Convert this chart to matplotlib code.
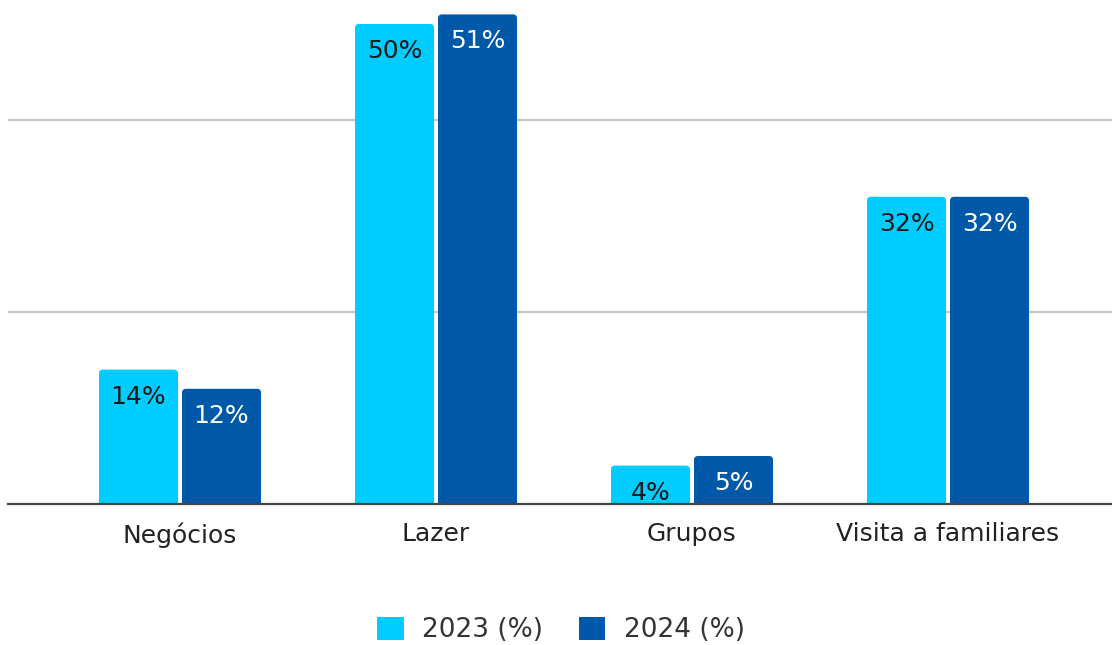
import matplotlib
matplotlib.use("Agg")
import matplotlib.pyplot as plt
from matplotlib.patches import FancyBboxPatch, Patch
import numpy as np

categories = ["Negócios", "Lazer", "Grupos", "Visita a familiares"]
series_names = ["2023 (%)", "2024 (%)"]
values_2023 = [14, 50, 4, 32]
values_2024 = [12, 51, 5, 32]
colors = ["#00CCFF", "#0059A8"]
label_colors = ["#1a1a1a", "#ffffff"]

W, H = 1112, 645
fig = plt.figure(figsize=(W / 100, H / 100), dpi=100)
left_px = 8
ax = fig.add_axes([left_px / W, (H - 504) / H, (W - left_px) / W, 504 / H])

px_per_unit_x = 256.0
center0 = 180
x_min = (left_px - center0) / px_per_unit_x
x_max = (W - center0) / px_per_unit_x
ax.set_xlim(x_min, x_max)
ax.set_ylim(0, 52.5)

px_per_unit_y = 504 / 52.5
bar_w = 79 / px_per_unit_x
offset = 41.5 / px_per_unit_x
r_x = 4 / px_per_unit_x
aspect = (4 / px_per_unit_y) / r_x

x = np.arange(len(categories))
for s, (vals, col, lc) in enumerate(zip([values_2023, values_2024], colors, label_colors)):
    xs = x + (offset if s else -offset)
    bars = ax.bar(xs, vals, width=bar_w, color="none")
    for b, v in zip(bars, vals):
        bx, bw = b.get_x(), b.get_width()
        p = FancyBboxPatch((bx, -1), bw, v + 1,
                           boxstyle=f"round,pad=0,rounding_size={r_x}",
                           mutation_aspect=aspect, facecolor=col, edgecolor="none",
                           zorder=2)
        ax.add_patch(p)
        ax.annotate(f"{v}%", (bx + bw / 2, v), xytext=(0, -27), textcoords="offset pixels",
                    ha="center", va="center", fontsize=18, color=lc, zorder=3)

for gy in [20, 40]:
    ax.axhline(gy, color="#c8c8c8", lw=1.6, zorder=1)
ax.axhline(0, color="#444444", lw=1.6, zorder=4, clip_on=False)

for sp in ax.spines.values():
    sp.set_visible(False)
ax.set_yticks([])
ax.set_xticks(x)
ax.set_xticklabels(categories, fontsize=18, color="#222222")
ax.tick_params(axis="x", length=0, pad=13)

handles = [Patch(facecolor=c, edgecolor="none") for c in colors]
fig.legend(handles, series_names, loc="center", bbox_to_anchor=(561 / W, 1 - 630 / H),
           ncol=2, frameon=False, fontsize=19, handlelength=1.0, handleheight=1.0,
           columnspacing=1.35, handletextpad=0.7, labelcolor="#333333")

fig.savefig("out.png", dpi=100)
